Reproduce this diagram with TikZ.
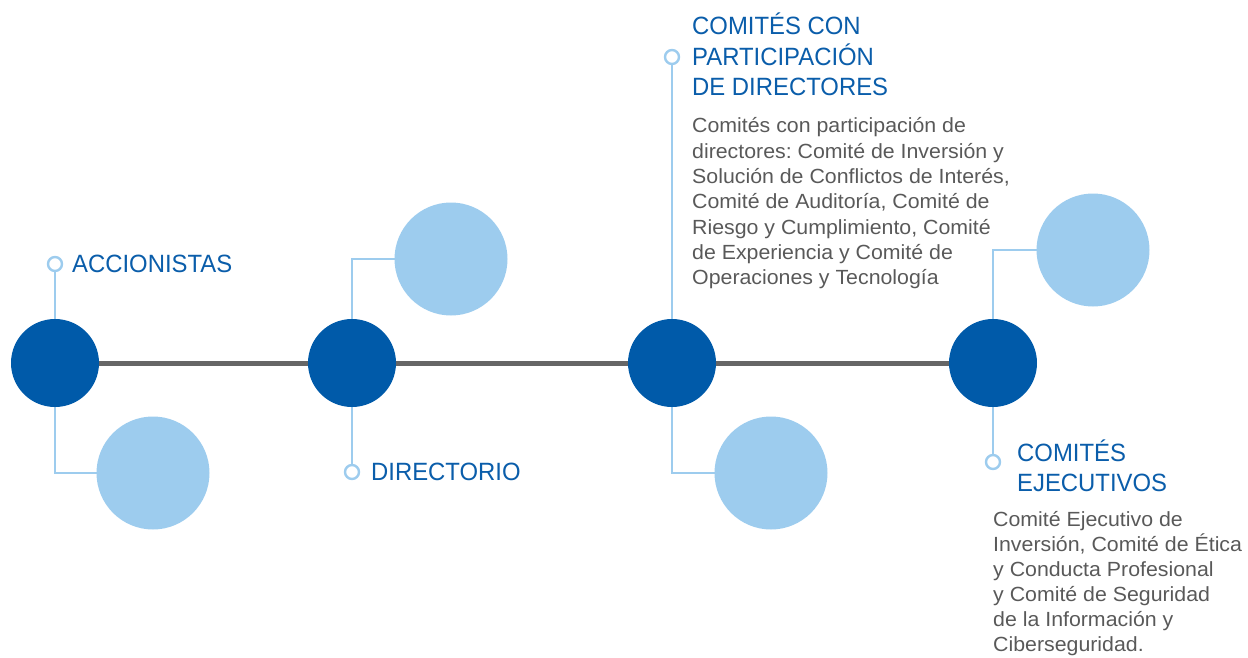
\documentclass[tikz,border=0pt]{standalone}
\usepackage{fontspec}
\setmainfont{Liberation Sans}[FakeStretch=0.955]
\newfontfamily\bodyfont{Liberation Sans}[FakeStretch=1.04]
\usetikzlibrary{backgrounds}
\frenchspacing
\definecolor{darkblue}{HTML}{005AA9}
\definecolor{lightblue}{HTML}{9DCCEE}
\definecolor{titleblue}{HTML}{0A5DAA}
\definecolor{bodygray}{HTML}{595959}
\definecolor{linegray}{HTML}{666666}
\tikzset{
  darkc/.style={circle, fill=darkblue, minimum size=88, inner sep=0},
  lightc/.style={circle, fill=lightblue, minimum size=113, inner sep=0},
  dotc/.style={circle, draw=lightblue, line width=2.4, fill=white, minimum size=14, inner sep=0},
  conn/.style={draw=lightblue, line width=2.8},
  mainline/.style={draw=linegray, line width=5},
  title/.style={anchor=base west, inner sep=0, text=titleblue, font=\fontsize{25}{30}\selectfont},
  body/.style={anchor=base west, inner sep=0, text=bodygray, font=\bodyfont\fontsize{20.5}{25}\selectfont},
}
\begin{document}
\begin{tikzpicture}[x=1pt,y=-1pt]
\useasboundingbox (0,0) rectangle (1248,658);
% main circles
\node[darkc] (d1) at (55,363) {};
\node[darkc] (d2) at (352,363) {};
\node[darkc] (d3) at (672,363) {};
\node[darkc] (d4) at (993,363) {};
% light circles
\node[lightc] (l1) at (153,473) {};
\node[lightc] (l2) at (451,259) {};
\node[lightc] (l3) at (771,473) {};
\node[lightc] (l4) at (1093,250) {};
% small dots
\node[dotc] (a0) at (55,264) {};
\node[dotc] (b0) at (352,472) {};
\node[dotc] (c0) at (672,57) {};
\node[dotc] (e0) at (993,462) {};
\begin{pgfonlayer}{background}
\draw[mainline] (d1.center) -- (d2.center) -- (d3.center) -- (d4.center);
\draw[conn] (a0) -- (d1);
\draw[conn] (d1.center) |- (l1.center);
\draw[conn] (d2.center) |- (l2.center);
\draw[conn] (d2) -- (b0);
\draw[conn] (c0) -- (d3);
\draw[conn] (d3.center) |- (l3.center);
\draw[conn] (d4.center) |- (l4.center);
\draw[conn] (d4) -- (e0);
\end{pgfonlayer}
% titles
\node[title] (tA) at (72,272) {ACCIONISTAS};
\node[title] (tB) at (371,480) {DIRECTORIO};
\node[title] (tC1) at (692,35) {COMITÉS CON};
\node[title] (tC2) at (692,65.5) {PARTICIPACIÓN};
\node[title] (tC3) at (692,96) {DE DIRECTORES};
\node[title] (tE1) at (1017,461) {COMITÉS};
\node[title] (tE2) at (1017,491) {EJECUTIVOS};
% body C
\node[body] (bC1) at (692,133) {Comités con participación de};
\node[body] (bC2) at (692,158.3) {directores: Comité de Inversión y};
\node[body] (bC3) at (692,183.6) {Solución de Conflictos de Interés,};
\node[body] (bC4) at (692,208.9) {Comité de Auditoría, Comité de};
\node[body] (bC5) at (692,234.2) {Riesgo y Cumplimiento, Comité};
\node[body] (bC6) at (692,259.5) {de Experiencia y Comité de};
\node[body] (bC7) at (692,284.8) {Operaciones y Tecnología};
% body E
\node[body] (bE1) at (993,526.7) {Comité Ejecutivo de};
\node[body] (bE2) at (993,551.7) {Inversión, Comité de Ética};
\node[body] (bE3) at (993,576.7) {y Conducta Profesional};
\node[body] (bE4) at (993,601.7) {y Comité de Seguridad};
\node[body] (bE5) at (993,626.7) {de la Información y};
\node[body] (bE6) at (993,651.7) {Ciberseguridad.};
\end{tikzpicture}
\end{document}
